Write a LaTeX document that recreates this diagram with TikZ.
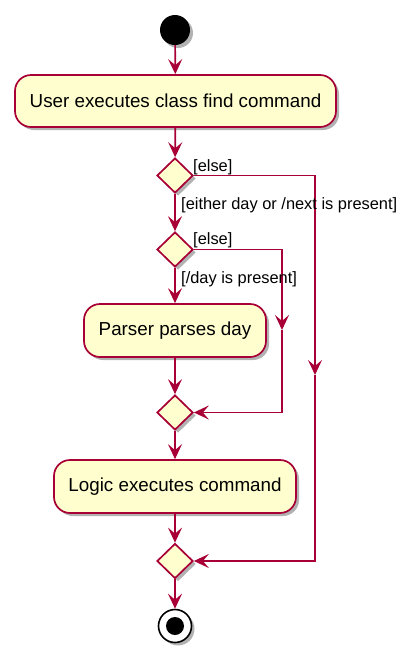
\documentclass[tikz,border=0pt]{standalone}
\usepackage{fontspec}
\setmainfont{Liberation Sans}
\usetikzlibrary{arrows.meta,shapes.geometric,shadows}
\definecolor{pumlred}{HTML}{A80036}
\definecolor{pumlfill}{HTML}{FEFECE}
\tikzset{
  x=1pt,y=-1pt,
  shade/.style={drop shadow={opacity=0.3,shadow xshift=3pt,shadow yshift=-3pt,fill=black}},
  action/.style={draw=pumlred,fill=pumlfill,line width=1.7pt,rounded corners=16pt,shade,
    inner sep=0pt,font=\fontsize{18.8}{22}\selectfont,text=black},
  decision/.style={draw=pumlred,fill=pumlfill,line width=1.7pt,diamond,shade,inner sep=0pt,
    minimum width=36pt,minimum height=35pt},
  guard/.style={inner sep=0pt,anchor=west,font=\fontsize{16.4}{19}\selectfont,text=black},
  flow/.style={draw=pumlred,line width=1.7pt,-{Stealth[length=15pt,width=14pt,inset=6pt]}}
}
\begin{document}
\begin{tikzpicture}
\useasboundingbox[fill=white] (0,0) rectangle (415,657);
\node[circle,fill=black,minimum size=30pt,inner sep=0pt,shade] (start) at (175,30) {};
\node[action,minimum width=321pt,minimum height=52pt] (a1) at (175.5,101) {User executes class find command};
\node[decision] (d1) at (175,175.5) {};
\node[decision] (d2) at (175,249.5) {};
\node[action,minimum width=182pt,minimum height=53pt] (a2) at (175,330.5) {Parser parses day};
\node[decision] (d3) at (175,412.5) {};
\node[action,minimum width=242pt,minimum height=53pt] (a3) at (175,486.5) {Logic executes command};
\node[decision] (d4) at (175,561) {};
\node[circle,draw=black,fill=white,line width=1.6pt,minimum size=33pt,inner sep=0pt,shade] (end) at (175,626) {};
\node[circle,fill=black,minimum size=18pt,inner sep=0pt] (endin) at (end.center) {};
\coordinate (r1) at (315,375);
\coordinate (r2) at (282,330);
\draw[flow] (start) -- (a1);
\draw[flow] (a1) -- (d1);
\draw[flow] (d1) -- (d2);
\draw[flow] (d2) -- (a2);
\draw[flow] (a2) -- (d3);
\draw[flow] (d3) -- (a3);
\draw[flow] (a3) -- (d4);
\draw[flow] (d4) -- (end);
\draw[flow] (d1.east) -| (r1);
\draw[flow] (r1) |- (d4.east);
\draw[flow] (d2.east) -| (r2);
\draw[flow] (r2) |- (d3.east);
\node[guard] (l1) at (193,167) {[else]};
\node[guard] (l2) at (181,205) {[either day or /next is present]};
\node[guard] (l3) at (193,240) {[else]};
\node[guard] (l4) at (181,279) {[/day is present]};
\end{tikzpicture}
\end{document}
